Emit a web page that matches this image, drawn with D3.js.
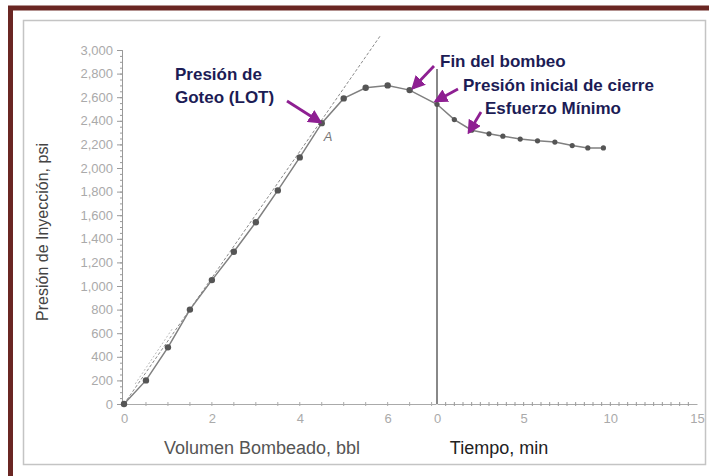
<!DOCTYPE html>
<html>
<head>
<meta charset="utf-8">
<script src="https://cdn.jsdelivr.net/npm/d3@7"></script>
<style>
  body { margin: 0; background: #fff; }
  svg { display: block; font-family: "Liberation Sans", Arial, sans-serif; }
</style>
</head>
<body>
<div id="chart"></div>
<script>
// volumen bombeado (bbl) vs presion (psi)
var volumen = [0, 0.5, 1, 1.5, 2, 2.5, 3, 3.5, 4, 4.5, 5, 5.5, 6, 6.5];
var presionBombeo = [0, 200, 480, 800, 1050, 1290, 1540, 1810, 2090, 2380, 2590, 2680, 2700, 2660];

// tiempo despues del cierre (min) vs presion (psi)
var tiempo = [0, 1, 2, 3, 3.8, 4.8, 5.8, 6.8, 7.8, 8.7, 9.6];
var presionCierre = [2540, 2410, 2320, 2290, 2270, 2245, 2230, 2220, 2190, 2170, 2170];

// recta de referencia (tendencia lineal)
var rectaX = [0, 5.85];
var rectaY = [0, 3130];
var rectaCortaX = [0.3, 1.15];
var rectaCortaY = [170, 640];

var yTicks = [0, 200, 400, 600, 800, 1000, 1200, 1400, 1600, 1800, 2000, 2200, 2400, 2600, 2800, 3000];
var volTicks = [0, 2, 4, 6];
var tiempoTicks = [0, 5, 10, 15];

var width = 709, height = 476;
var purple = "#8e1f92";
var navy = "#1c1c55";

var svg = d3.select("#chart").append("svg")
  .attr("width", width)
  .attr("height", height);

// marco
svg.append("rect")
  .attr("x", 10.5).attr("y", 8)
  .attr("width", 720).attr("height", 490)
  .attr("fill", "none")
  .attr("stroke", "#6a2623")
  .attr("stroke-width", 5);

svg.append("rect")
  .attr("x", 23.5).attr("y", 20.5)
  .attr("width", 682).attr("height", 444)
  .attr("fill", "none")
  .attr("stroke", "#c4c4c4")
  .attr("stroke-width", 1.5);

var xL = d3.scaleLinear().domain([0, 7.1]).range([124, 436]);
var xR = d3.scaleLinear().domain([0, 15]).range([437, 697]);
var y = d3.scaleLinear().domain([0, 3000]).range([404, 50]);

// eje Y
var yMinor = svg.append("g")
  .attr("transform", "translate(122,0)")
  .call(d3.axisLeft(y).tickValues(d3.range(0, 3001, 50)).tickSize(2).tickFormat(""));
var yAxis = svg.append("g")
  .attr("transform", "translate(122,0)")
  .call(d3.axisLeft(y).tickValues(yTicks).tickSize(5).tickPadding(4).tickFormat(d3.format(",")));

[yMinor, yAxis].forEach(function(g) {
  g.select(".domain").attr("stroke", "#999");
  g.selectAll(".tick line").attr("stroke", "#999");
});
yAxis.selectAll(".tick text")
  .attr("fill", "#aaa")
  .style("font-size", "13px");

// eje X izquierdo (volumen)
var xAxisL = svg.append("g")
  .attr("transform", "translate(0,404)")
  .call(d3.axisBottom(xL).tickValues(volTicks).tickSize(0).tickPadding(10));
xAxisL.select(".domain").attr("stroke", "#aaa");
xAxisL.selectAll(".tick text").attr("fill", "#aaa").style("font-size", "13px");

svg.append("g").selectAll("line")
  .data(d3.range(0.5, 7.01, 0.5))
  .enter().append("line")
  .attr("x1", function(d) { return xL(d); })
  .attr("x2", function(d) { return xL(d); })
  .attr("y1", 402).attr("y2", 406)
  .attr("stroke", "#aaa");

// eje X derecho (tiempo)
var xAxisR = svg.append("g")
  .attr("transform", "translate(0,404)")
  .call(d3.axisBottom(xR).tickValues(tiempoTicks).tickSize(0).tickPadding(10));
xAxisR.select(".domain").attr("stroke", "#aaa");
xAxisR.selectAll(".tick text").attr("fill", "#aaa").style("font-size", "13px");

svg.append("g").selectAll("line")
  .data(d3.range(0.5, 15, 0.5))
  .enter().append("line")
  .attr("x1", function(d) { return xR(d); })
  .attr("x2", function(d) { return xR(d); })
  .attr("y1", 402).attr("y2", 406)
  .attr("stroke", "#999");

// linea vertical del cierre
svg.append("line")
  .attr("x1", xR(0)).attr("x2", xR(0))
  .attr("y1", y(0)).attr("y2", y(2840))
  .attr("stroke", "#888")
  .attr("stroke-width", 2);

// rectas de tendencia
svg.append("line")
  .attr("x1", xL(rectaX[0])).attr("y1", y(rectaY[0]))
  .attr("x2", xL(rectaX[1])).attr("y2", y(rectaY[1]))
  .attr("stroke", "#8a8a8a")
  .attr("stroke-width", 1)
  .attr("stroke-dasharray", "3,2");

svg.append("line")
  .attr("x1", xL(rectaCortaX[0]) - 2).attr("y1", y(rectaCortaY[0]))
  .attr("x2", xL(rectaCortaX[1]) - 2).attr("y2", y(rectaCortaY[1]))
  .attr("stroke", "#bbb")
  .attr("stroke-width", 1)
  .attr("stroke-dasharray", "2,2");

// curva completa
var puntos = volumen.map(function(v, i) { return [xL(v), y(presionBombeo[i])]; })
  .concat(tiempo.map(function(t, i) { return [xR(t), y(presionCierre[i])]; }));

svg.append("path")
  .datum(puntos)
  .attr("fill", "none")
  .attr("stroke", "#808080")
  .attr("stroke-width", 1.5)
  .attr("d", d3.line());

svg.append("g").selectAll("circle")
  .data(puntos)
  .enter().append("circle")
  .attr("cx", function(d) { return d[0]; })
  .attr("cy", function(d) { return d[1]; })
  .attr("r", function(d, i) { return i < volumen.length ? 3.2 : 2.6; })
  .attr("fill", "#555");

// titulos de ejes
svg.append("text")
  .attr("transform", "translate(48,232) rotate(-90)")
  .attr("text-anchor", "middle")
  .attr("fill", "#444")
  .style("font-size", "16px")
  .text("Presión de Inyección, psi");

svg.append("text")
  .attr("x", 262).attr("y", 454)
  .attr("text-anchor", "middle")
  .attr("fill", "#555")
  .style("font-size", "18px")
  .text("Volumen Bombeado, bbl");

svg.append("text")
  .attr("x", 499).attr("y", 454)
  .attr("text-anchor", "middle")
  .attr("fill", "#222")
  .style("font-size", "18px")
  .text("Tiempo, min");

// punto A
svg.append("text")
  .attr("x", xL(4.5) + 2).attr("y", y(2380) + 18)
  .attr("fill", "#777")
  .style("font-size", "13px")
  .style("font-style", "italic")
  .text("A");

// flechas
svg.append("defs").append("marker")
  .attr("id", "punta")
  .attr("viewBox", "0 0 10 10")
  .attr("refX", 8).attr("refY", 5)
  .attr("markerWidth", 5)
  .attr("markerHeight", 5)
  .attr("markerUnits", "strokeWidth")
  .attr("orient", "auto")
  .append("path")
  .attr("d", "M0,0L10,5L0,10z")
  .attr("fill", purple);

var flechas = [
  [287, 101, 320, 122],
  [434, 66, 413, 88],
  [458, 89, 436, 101],
  [481, 112, 469, 132]
];
svg.append("g").selectAll("line")
  .data(flechas)
  .enter().append("line")
  .attr("x1", function(d) { return d[0]; })
  .attr("y1", function(d) { return d[1]; })
  .attr("x2", function(d) { return d[2]; })
  .attr("y2", function(d) { return d[3]; })
  .attr("stroke", purple)
  .attr("stroke-width", 2.8)
  .attr("marker-end", "url(#punta)");

// anotaciones
var notas = [
  ["Presión de", 175, 80],
  ["Goteo (LOT)", 175, 103],
  ["Fin del bombeo", 440, 67],
  ["Presión inicial de cierre", 463, 91],
  ["Esfuerzo Mínimo", 485, 114]
];
svg.append("g").selectAll("text")
  .data(notas)
  .enter().append("text")
  .attr("x", function(d) { return d[1]; })
  .attr("y", function(d) { return d[2]; })
  .attr("fill", navy)
  .style("font-size", "17px")
  .style("font-weight", "bold")
  .text(function(d) { return d[0]; });
</script>
</body>
</html>
